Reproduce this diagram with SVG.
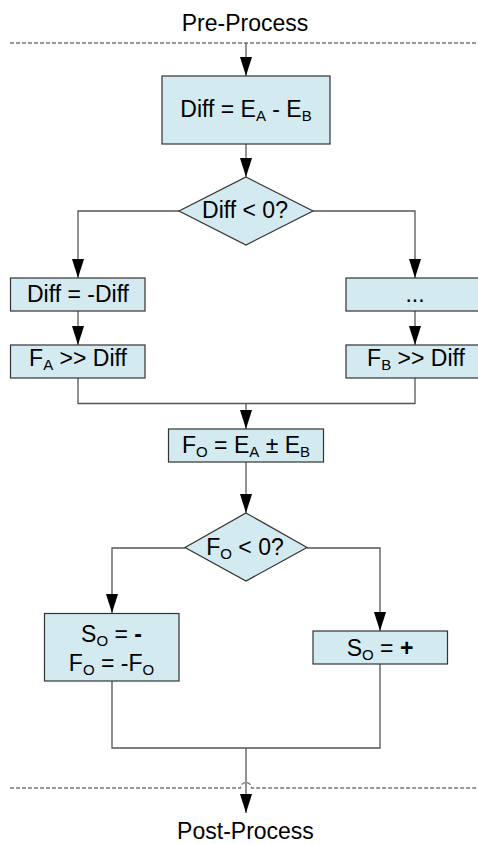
<svg xmlns="http://www.w3.org/2000/svg" width="478" height="844" viewBox="0 0 478 844">
<style>
  text { font-family: "Liberation Sans", Arial, sans-serif; font-size: 23px; fill: #000; text-anchor: middle; }
  .sub { font-size: 15px; }
  .b { font-weight: bold; }
  .box { fill: #d2eaf0; stroke: #333; stroke-width: 1.2; }
  .conn { fill: none; stroke: #555; stroke-width: 1.3; }
  .dash { fill: none; stroke: #777; stroke-width: 1.3; stroke-dasharray: 4 2; }
</style>
<defs>
  <marker id="arr" markerUnits="userSpaceOnUse" markerWidth="19" markerHeight="12" refX="19" refY="6" orient="auto">
    <path d="M0,0 L19,6 L0,12 z" fill="#000"/>
  </marker>
</defs>
<rect width="478" height="844" fill="#fff"/>

<g id="separators">
  <line class="dash" x1="10" y1="43" x2="478" y2="43"/>
  <path class="dash" d="M10,788 H240.5 A5.5,5.5 0 0 1 251.5,788 H478"/>
</g>

<g id="pre"><text x="245" y="30.5">Pre-Process</text></g>
<g id="post"><text x="245.5" y="838.5">Post-Process</text></g>

<g id="connectors">
  <path class="conn" d="M246,43 V76" marker-end="url(#arr)"/>
  <path class="conn" d="M246,144 V177" marker-end="url(#arr)"/>
  <path class="conn" d="M179,211 H78 V278" marker-end="url(#arr)"/>
  <path class="conn" d="M313,211 H415 V278" marker-end="url(#arr)"/>
  <path class="conn" d="M78,311 V345" marker-end="url(#arr)"/>
  <path class="conn" d="M415,311 V345" marker-end="url(#arr)"/>
  <path class="conn" d="M78,378 V403.5 H415 V378"/>
  <path class="conn" d="M246,403.5 V429" marker-end="url(#arr)"/>
  <path class="conn" d="M246,462 V513" marker-end="url(#arr)"/>
  <path class="conn" d="M185,548 H112 V613" marker-end="url(#arr)"/>
  <path class="conn" d="M307,548 H380 V631" marker-end="url(#arr)"/>
  <path class="conn" d="M112,681 V748 H380 V664"/>
  <path class="conn" d="M246,748 V813" marker-end="url(#arr)"/>
</g>

<g id="diff">
  <rect class="box" x="162" y="76" width="168" height="68"/>
  <text x="246" y="117">Diff = E<tspan class="sub" dy="4">A</tspan><tspan dy="-4"> - E</tspan><tspan class="sub" dy="4">B</tspan></text>
</g>

<g id="dec1">
  <polygon class="box" points="246,177 313,211 246,245 179,211"/>
  <text x="245" y="218">Diff &lt; 0?</text>
</g>

<g id="negdiff">
  <rect class="box" x="10.5" y="278" width="134.5" height="33"/>
  <text x="78" y="302">Diff = -Diff</text>
</g>

<g id="shiftA">
  <rect class="box" x="10.5" y="345" width="134.5" height="33"/>
  <text x="78" y="366">F<tspan class="sub" dy="4">A</tspan><tspan dy="-4"> &gt;&gt; Diff</tspan></text>
</g>

<g id="dots">
  <rect class="box" x="346" y="278" width="138" height="33"/>
  <text x="415" y="302">...</text>
</g>

<g id="shiftB">
  <rect class="box" x="346" y="345" width="138" height="33"/>
  <text x="416" y="366">F<tspan class="sub" dy="4">B</tspan><tspan dy="-4"> &gt;&gt; Diff</tspan></text>
</g>

<g id="sum">
  <rect class="box" x="168.5" y="429" width="155" height="33"/>
  <text x="246" y="453">F<tspan class="sub" dy="4">O</tspan><tspan dy="-4"> = E</tspan><tspan class="sub" dy="4">A</tspan><tspan dy="-4"> ± E</tspan><tspan class="sub" dy="4">B</tspan></text>
</g>

<g id="dec2">
  <polygon class="box" points="246,513 307,547.5 246,581 185,547.5"/>
  <text x="245" y="555">F<tspan class="sub" dy="4">O</tspan><tspan dy="-4"> &lt; 0?</tspan></text>
</g>

<g id="neg">
  <rect class="box" x="44.5" y="613.5" width="134.5" height="67.5"/>
  <text x="111.5" y="641.5">S<tspan class="sub" dy="4">O</tspan><tspan dy="-4"> = </tspan><tspan class="b">-</tspan></text>
  <text x="111.5" y="671">F<tspan class="sub" dy="4">O</tspan><tspan dy="-4"> = -F</tspan><tspan class="sub" dy="4">O</tspan></text>
</g>

<g id="pos">
  <rect class="box" x="313" y="631" width="134.5" height="33"/>
  <text x="380" y="656">S<tspan class="sub" dy="4">O</tspan><tspan dy="-4"> = </tspan><tspan class="b">+</tspan></text>
</g>
</svg>
